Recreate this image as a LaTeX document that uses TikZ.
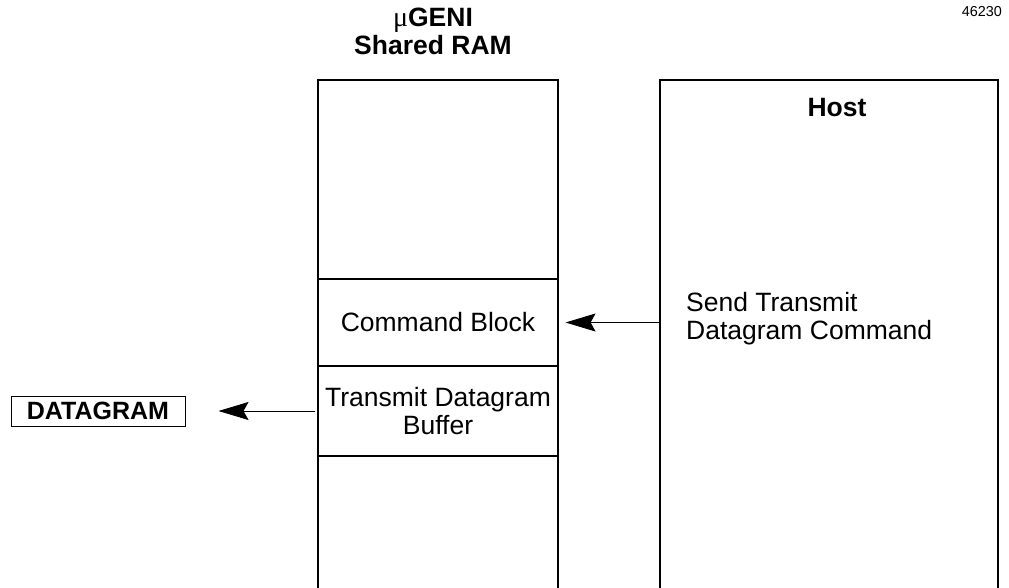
\documentclass[tikz,border=0pt]{standalone}
\usepackage{fontspec}
\setmainfont{Liberation Sans}
\newfontfamily\symfont{Liberation Serif}
\usetikzlibrary{arrows.meta}
\tikzset{
  cell/.style={draw, line width=1.1pt, minimum width=240pt, inner sep=0pt, align=center, font=\fontsize{26.5}{28}\selectfont},
  bigbox/.style={draw, line width=1.1pt, inner sep=0pt},
  lbl/.style={font=\fontsize{26.5}{28}\selectfont, inner sep=0pt},
  arr/.style={line width=0.8pt, -{Stealth[length=30pt, width=18pt, inset=5pt]}},
}
\begin{document}
\begin{tikzpicture}[x=1pt,y=-1pt]
\useasboundingbox (0,0) rectangle (1009,588);
\clip (0,0) rectangle (1009,588);
% Shared RAM column
\node[cell, minimum height=199pt] (ramtop) at (438,179.5) {};
\node[cell, minimum height=87pt] (cmd) at (438,322.5) {Command Block};
\node[cell, minimum height=90pt] (tdb) at (438,411) {Transmit Datagram\\Buffer};
\node[cell, minimum height=160pt] (rambot) at (438,536) {};
% Host
\node[bigbox, minimum width=338pt, minimum height=540pt] (host) at (829,350) {};
\node[lbl, font=\fontsize{26.5}{28}\selectfont\bfseries] (hostlbl) at (837,108) {Host};
\node[lbl, align=left, anchor=west] (send) at (686,319) {Send Transmit\\Datagram Command};
% Title
\node[lbl, align=center, font=\fontsize{26.5}{28}\selectfont\bfseries] (title) at (433,31) {{\symfont\mdseries\fontsize{28}{28}\selectfont μ}GENI\\Shared RAM};
% Figure number
\node[lbl, anchor=east, font=\fontsize{14.4}{16}\selectfont] (fig) at (1002,12) {46230};
% Datagram box
\node[draw, line width=1pt, minimum width=174pt, minimum height=30pt, inner sep=0pt, font=\fontsize{25}{28}\selectfont\bfseries] (dgram) at (98,411) {DATAGRAM};
% Arrows
\coordinate (a1end) at ([xshift=7pt]cmd.east);
\draw[arr] (host.west |- cmd.east) -- (a1end);
\coordinate (a2start) at ([xshift=-2pt]tdb.west);
\coordinate (a2end) at ([xshift=33pt]dgram.east);
\draw[arr] (a2start) -- (a2end);
\end{tikzpicture}
\end{document}
